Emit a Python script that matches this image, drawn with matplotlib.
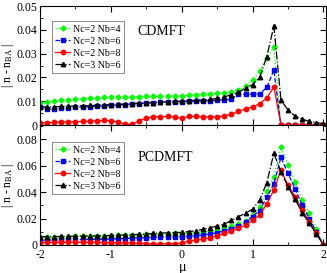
import numpy as np
import matplotlib
matplotlib.use("Agg")
import matplotlib.pyplot as plt
from matplotlib.ticker import MultipleLocator, FuncFormatter

plt.rcParams['font.family'] = ['Liberation Serif', 'DejaVu Serif']
plt.rcParams['mathtext.fontset'] = 'custom'
plt.rcParams['mathtext.rm'] = 'Liberation Serif'
plt.rcParams['mathtext.it'] = 'Liberation Serif:italic'

mu = np.round(np.arange(-2.0, 2.01, 0.1), 2)

labels = ["Nc=2 Nb=4", "Nc=2 Nb=6", "Nc=2 Nb=8", "Nc=3 Nb=6"]

# CDMFT (top)
cd_nb4 = [0.0094, 0.0097, 0.0101, 0.0104, 0.0107, 0.0109, 0.0111, 0.0113, 0.0115, 0.0116,
          0.0117, 0.0118, 0.0118, 0.0119, 0.0119, 0.0120, 0.0120, 0.0121, 0.0121, 0.0122,
          0.0123, 0.0125, 0.0127, 0.0129, 0.0131, 0.0134, 0.0136, 0.0140, 0.0147, 0.0162,
          0.0190, 0.0228, 0.0280, 0.0327, 0.0, 0.0, 0.0, 0.0, 0.0, 0.0, 0.0]
cd_nb6 = [0.0076, 0.0066, 0.0068, 0.0070, 0.0072, 0.0074, 0.0076, 0.0077, 0.0079, 0.0080,
          0.0082, 0.0084, 0.0086, 0.0088, 0.0090, 0.0092, 0.0094, 0.0095, 0.0096, 0.0097,
          0.0098, 0.0099, 0.0100, 0.0101, 0.0102, 0.0104, 0.0106, 0.0108, 0.0129, 0.0129,
          0.0129, 0.0131, 0.0158, 0.0231, 0.0, 0.0, 0.0, 0.0, 0.0, 0.0, 0.0]
cd_nb8 = [0.0008, 0.0010, 0.0011, 0.0012, 0.0013, 0.0014, 0.0015, 0.0016, 0.0018, 0.0019,
          0.0018, 0.0013, 0.0003, 0.0003, 0.0018, 0.0030, 0.0034, 0.0035, 0.0036, 0.0035,
          0.0028, 0.0036, 0.0036, 0.0034, 0.0034, 0.0035, 0.0038, 0.0045, 0.0057, 0.0068,
          0.0075, 0.0090, 0.0113, 0.0161, 0.0, 0.0, 0.0, 0.0, 0.0, 0.0, 0.0]
cd_nc3 = [0.0077, 0.0076, 0.0077, 0.0078, 0.0079, 0.0080, 0.0081, 0.0082, 0.0083, 0.0084,
          0.0085, 0.0087, 0.0088, 0.0090, 0.0091, 0.0093, 0.0094, 0.0096, 0.0097, 0.0099,
          0.0100, 0.0102, 0.0104, 0.0106, 0.0108, 0.0112, 0.0118, 0.0127, 0.0137, 0.0155,
          0.0170, 0.0200, 0.0287, 0.0416, 0.0105, 0.0063, 0.0037, 0.0025, 0.0015, 0.0010, 0.0006]

# PCDMFT (bottom)
pc_nb4 = [0.0060, 0.0061, 0.0062, 0.0063, 0.0064, 0.0065, 0.0066, 0.0067, 0.0068, 0.0069,
          0.0070, 0.0072, 0.0074, 0.0076, 0.0078, 0.0080, 0.0082, 0.0084, 0.0086, 0.0087,
          0.0088, 0.0090, 0.0093, 0.0098, 0.0103, 0.0110, 0.0126, 0.0140, 0.0158, 0.0183,
          0.0225, 0.0290, 0.0410, 0.0515, 0.0737, 0.0604, 0.0478, 0.0340, 0.0239, 0.0118, 0.0]
pc_nb6 = [0.0035, 0.0036, 0.0037, 0.0038, 0.0039, 0.0040, 0.0041, 0.0042, 0.0043, 0.0044,
          0.0045, 0.0047, 0.0049, 0.0051, 0.0053, 0.0055, 0.0057, 0.0059, 0.0060, 0.0062,
          0.0063, 0.0066, 0.0070, 0.0076, 0.0083, 0.0093, 0.0106, 0.0123, 0.0143, 0.0170,
          0.0215, 0.0260, 0.0360, 0.0460, 0.0662, 0.0540, 0.0425, 0.0300, 0.0200, 0.0100, 0.0]
pc_nb8 = [0.0018, 0.0019, 0.0019, 0.0020, 0.0020, 0.0020, 0.0020, 0.0019, 0.0019, 0.0018,
          0.0018, 0.0017, 0.0016, 0.0015, 0.0013, 0.0011, 0.0009, 0.0008, 0.0009, 0.0011,
          0.0013, 0.0030, 0.0038, 0.0046, 0.0055, 0.0070, 0.0088, 0.0105, 0.0126, 0.0150,
          0.0189, 0.0226, 0.0310, 0.0415, 0.0566, 0.0450, 0.0365, 0.0264, 0.0176, 0.0088, 0.0]
pc_nc3 = [0.0062, 0.0063, 0.0064, 0.0065, 0.0066, 0.0066, 0.0067, 0.0068, 0.0069, 0.0070,
          0.0072, 0.0074, 0.0076, 0.0078, 0.0080, 0.0082, 0.0088, 0.0090, 0.0092, 0.0094,
          0.0096, 0.0101, 0.0108, 0.0118, 0.0130, 0.0143, 0.0158, 0.0185, 0.0214, 0.0240,
          0.0270, 0.0340, 0.0470, 0.0692, 0.0553, 0.0440, 0.0345, 0.0244, 0.0164, 0.0085, 0.0]

styles = [
    dict(color='#00ff00', ls=':', marker='D', ms=2.6),
    dict(color='#0000ff', ls='--', marker='s', ms=2.8),
    dict(color='#ff0000', ls='-', marker='o', ms=3.2),
    dict(color='black', ls='-.', marker='^', ms=3.2),
]


def zero_fmt(v, pos):
    if abs(v) < 1e-12:
        return "0"
    return "%g" % v


fig = plt.figure(figsize=(3.27, 2.73), dpi=100)
ax1 = fig.add_axes([0.1223, 0.5421, 0.8734, 0.4359])
ax2 = fig.add_axes([0.1223, 0.1026, 0.8734, 0.4395])

panels = [
    (ax1, [cd_nb4, cd_nb6, cd_nb8, cd_nc3], "CDMFT", 0.05, 0.01, 0.005, 0.874, 0.76),
    (ax2, [pc_nb4, pc_nb6, pc_nb8, pc_nc3], "PCDMFT", 0.0906, 0.02, 0.01, 0.858, 0.70),
]

for ax, series, name, ymax, major, minor, leg_top, txt_y in panels:
    for ys, st, lab in zip(series, styles, labels):
        ax.plot(mu, ys, lw=0.9, label=lab, **st)
    ax.set_xlim(-2, 2.03)
    ax.set_ylim(0, ymax)
    ax.xaxis.set_major_locator(MultipleLocator(1))
    ax.xaxis.set_minor_locator(MultipleLocator(0.5))
    ax.yaxis.set_major_locator(MultipleLocator(major))
    ax.yaxis.set_minor_locator(MultipleLocator(minor))
    ax.yaxis.set_major_formatter(FuncFormatter(zero_fmt))
    ax.tick_params(which='both', direction='in', top=True, right=True, labelsize=8.5, pad=2)
    ax.tick_params(which='major', length=4)
    ax.tick_params(which='minor', length=2)
    ax.set_ylabel(r"$|$ n - n$_{\mathrm{BA}}$ $|$", fontsize=8.5)
    ax.yaxis.set_label_coords(-0.083, 0.5)
    ax.text(0.34, txt_y, name, transform=ax.transAxes, fontsize=10)
    leg = ax.legend(loc='upper left', bbox_to_anchor=(0.042, leg_top),
                    fontsize=7.2, frameon=True, fancybox=False, edgecolor='#555555',
                    handlelength=1.5, handletextpad=0.3, borderpad=0.35, labelspacing=0.3,
                    borderaxespad=0)
    leg.get_frame().set_linewidth(0.6)

ax1.tick_params(labelbottom=False)
ax2.set_xticks([-2, -1, 0, 1, 2])
ax2.set_xticklabels(["-2", "-1", "0", "1", "2"])
ax2.tick_params(axis='x', pad=3)
ax2.set_xlabel("μ", fontsize=10)
ax2.xaxis.set_label_coords(0.5, -0.13)

fig.savefig("out.png", dpi=100)
